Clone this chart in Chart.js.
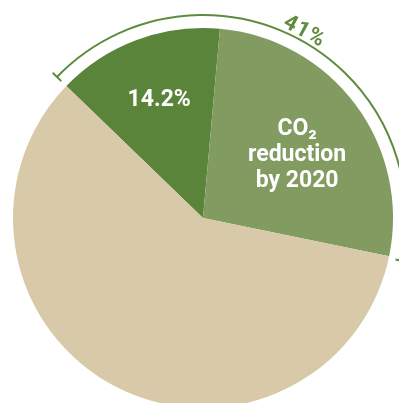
<!DOCTYPE html>
<html>
<head>
<meta charset="utf-8">
<script src="https://cdn.jsdelivr.net/npm/chart.js@4.4.0/dist/chart.umd.min.js"></script>
<style>
  html, body { margin: 0; padding: 0; width: 399px; height: 403px; overflow: hidden; background: #fff; }
  #myChart { position: absolute; left: -17px; top: -2px; }
</style>
</head>
<body>
<canvas id="myChart" width="440" height="440"></canvas>
<script>
// slices, clockwise from the upper left
const sliceLabels = ["14.2%", "CO₂ reduction by 2020", "rest"];
const sliceValues = [14.2, 26.8, 59.0];
const sliceColors = ["#5b843b", "#819b60", "#d8c9a8"];
const arcLabel = "41%";

// text inside the slices + the bracket arc round the two green slices
const labelsPlugin = {
  id: "labels",
  afterDraw(chart) {
    const ctx = chart.ctx;
    const arcs = chart.getDatasetMeta(0).data;
    const cx = arcs[0].x, cy = arcs[0].y, r = arcs[0].outerRadius;

    ctx.save();
    ctx.fillStyle = "#fff";
    ctx.textAlign = "center";
    ctx.textBaseline = "middle";
    ctx.font = "bold 23px Roboto";

    // first slice
    let a = (arcs[0].startAngle + arcs[0].endAngle) / 2;
    ctx.fillText(sliceLabels[0], cx + Math.cos(a) * r * 0.66, cy + Math.sin(a) * r * 0.66);

    // second slice, three lines
    a = (arcs[1].startAngle + arcs[1].endAngle) / 2 + 0.04;
    const lx = cx + Math.cos(a) * r * 0.6, ly = cy + Math.sin(a) * r * 0.6 + 2;
    ctx.fillText("CO₂", lx, ly - 26);
    ctx.fillText("reduction", lx, ly);
    ctx.fillText("by 2020", lx, ly + 26);

    // bracket arc
    const ar = r + 13;
    const a0 = arcs[0].startAngle, a1 = arcs[1].endAngle + 0.01;
    ctx.strokeStyle = "#5e8c3e";
    ctx.lineWidth = 2;
    ctx.beginPath();
    ctx.arc(cx, cy, ar, a0, a1);
    ctx.stroke();
    [a0, a1].forEach(t => {
      ctx.beginPath();
      ctx.moveTo(cx + Math.cos(t) * (ar - 6), cy + Math.sin(t) * (ar - 6));
      ctx.lineTo(cx + Math.cos(t) * (ar + 6), cy + Math.sin(t) * (ar + 6));
      ctx.stroke();
    });

    // 41% along the arc
    const ta = -Math.PI / 2 + 28.5 * Math.PI / 180;
    ctx.translate(cx + Math.cos(ta) * (ar + 9), cy + Math.sin(ta) * (ar + 9));
    ctx.rotate(ta + Math.PI / 2);
    ctx.fillStyle = "#5e8c3e";
    ctx.font = "bold 22px Roboto";
    ctx.letterSpacing = "1px";
    ctx.fillText(arcLabel, 0, 0);
    ctx.restore();
  }
};

new Chart(document.getElementById("myChart"), {
  type: "pie",
  data: {
    labels: sliceLabels,
    datasets: [{
      data: sliceValues,
      backgroundColor: sliceColors,
      borderWidth: 0,
    }],
  },
  options: {
    responsive: false,
    animation: false,
    rotation: -46,
    layout: { padding: 30 },
    plugins: {
      legend: { display: false },
      tooltip: { enabled: false },
    },
  },
  plugins: [labelsPlugin],
});
</script>
</body>
</html>
